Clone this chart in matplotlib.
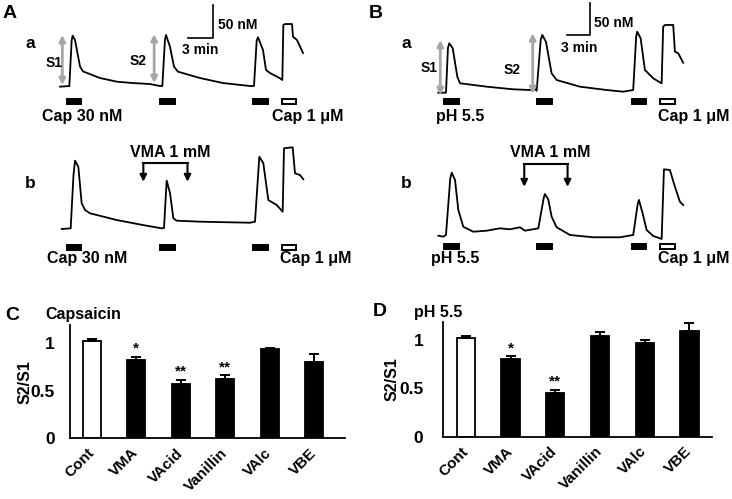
import matplotlib
matplotlib.use('Agg')
import matplotlib.pyplot as plt
from matplotlib.patches import Rectangle

plt.rcParams['font.family'] = ['Liberation Sans', 'DejaVu Sans']
plt.rcParams['font.weight'] = 'bold'

W, H = 732, 499

# --- calcium traces (time in min, [Ca2+]i in nM) ---
aa_t = [0, 1.12, 1.4, 1.52, 1.8, 2.4, 2.76, 4.8, 6.84, 8.76, 10.8, 12.0, 12.28, 12.6, 12.72,
        13.2, 13.68, 14.16, 16.8, 19.56, 22.8, 23.28, 23.6, 23.76, 24.36, 24.72, 25.2, 26.4,
        26.68, 26.8, 27.0, 27.84, 27.96, 28.44, 29.16]
aa_c = [100.5, 101.5, 171, 177.7, 171.2, 131.2, 123.6, 113.6, 108, 106, 104.5, 101.5, 101.5, 172,
        178.8, 161, 130.8, 123.2, 113.6, 106, 101.5, 101.5, 170, 175.3, 156, 125.8, 121.2, 113.2,
        110.6, 193.9, 195.4, 195.4, 176.2, 171.2, 151.5]

ab_t = [0.2, 1.28, 1.62, 1.8, 2.2, 2.6, 3.0, 3.6, 6.8, 9.96, 12.2, 12.48, 12.8, 13.2, 13.6, 14.0,
        16.8, 22.8, 23.4, 23.92, 24.4, 25.0, 26.0, 26.72, 26.88, 27.92, 28.2, 28.8, 29.2]
ab_c = [100, 101, 181.8, 203.5, 194.4, 138.9, 128.8, 123.8, 113.6, 106, 101, 101.5, 173.2, 154.5,
        116.2, 112.6, 111.1, 109.5, 111.1, 209.5, 199.5, 143.9, 136.4, 126.2, 222.3, 223.8, 184.4,
        181.8, 175.3]

ba_t = [0.04, 1.04, 1.3, 1.47, 1.92, 2.52, 2.87, 6.35, 9.82, 12.0, 12.45, 12.87, 13.4, 13.6, 14.08,
        14.82, 15.48, 18.51, 22.0, 24.16, 25.46, 25.85, 25.98, 26.43, 26.99, 28.07, 29.17, 29.37,
        29.6, 30.68, 30.9, 31.33, 31.98]
ba_c = [100, 100, 170, 177.2, 169.4, 125, 114.7, 109.4, 105.3, 104.2, 107.3, 103.1, 183, 190.2,
        179.7, 130.3, 119.8, 109.4, 104.2, 101.6, 104.2, 188, 195.3, 185, 135.5, 122.5, 114.7,
        203.1, 205.8, 205.8, 164.1, 161.6, 146.9]

bb_t = [0.04, 0.69, 1.04, 1.6, 1.79, 2.22, 2.65, 3.3, 4.6, 6.35, 8.08, 9.39, 10.69, 11.34, 13.08,
        13.8, 13.95, 14.38, 14.82, 15.48, 17.21, 20.25, 23.73, 25.46, 26.05, 26.21, 26.69, 27.21,
        28.07, 28.94, 29.17, 29.47, 30.25, 30.9, 31.55, 31.98]
bb_c = [100.5, 98.9, 101.6, 190, 198.9, 187.5, 140.6, 114.5, 106.7, 108.3, 112, 110.5, 113.6,
        108.3, 112, 160, 165.6, 157.3, 130.2, 113.6, 101.6, 98, 98, 101.6, 150, 156.3, 135.5,
        109.4, 100, 96.4, 95.3, 204.2, 203.1, 177, 153.6, 148.4]

# stimulus onsets (min); last one is Cap 1 uM (open bar)
stim_a = [0.8, 12.0, 23.2, 26.6]
stim_b = [0.78, 12.95, 25.25, 29.0]
stim_dur_a = 1.75
stim_dur_b = 1.9
vma_a = (10.0, 15.3)
vma_b = (11.25, 16.9)

# --- S2/S1 bar data ---
cats = ['Cont', 'VMA', 'VAcid', 'Vanillin', 'VAlc', 'VBE']
cap_mean = [1.02, 0.82, 0.57, 0.62, 0.94, 0.80]
cap_err = [0.025, 0.035, 0.045, 0.045, 0.01, 0.085]
cap_sig = ['', '*', '**', '**', '', '']
ph_mean = [1.02, 0.80, 0.45, 1.04, 0.97, 1.09]
ph_err = [0.027, 0.034, 0.034, 0.045, 0.034, 0.09]
ph_sig = ['', '*', '**', '', '', '']

fig = plt.figure(figsize=(W / 100, H / 100), dpi=100)


def ptext(x, y, s, size=11, **kw):
    kw.setdefault('va', 'center')
    fig.text(x / W, 1 - y / H, s, fontsize=size, fontweight='bold', **kw)


def trace_ax(x0, ybase, ppm, ppn, tlim=(-3, 34), clim=(40, 250)):
    left = x0 + tlim[0] * ppm
    right = x0 + tlim[1] * ppm
    top = ybase - (clim[1] - 100) * ppn
    bottom = ybase - (clim[0] - 100) * ppn
    ax = fig.add_axes([left / W, 1 - bottom / H, (right - left) / W, (bottom - top) / H])
    ax.set_xlim(tlim)
    ax.set_ylim(clim)
    ax.axis('off')
    return ax


def draw_trace(ax, t, c, stims, dur, bar_y):
    ax.plot(t, c, color='black', lw=1.3)
    for i, s in enumerate(stims):
        fc = 'white' if i == len(stims) - 1 else 'black'
        ax.add_patch(Rectangle((s, bar_y), dur, 8, facecolor=fc, edgecolor='black', lw=1.4))


def gray_arrow(ax, t, c0, c1):
    ax.annotate('', xy=(t, c1), xytext=(t, c0),
                arrowprops=dict(arrowstyle='<|-|>', color='#a6a6a6', lw=2, mutation_scale=9,
                                shrinkA=0, shrinkB=0))


def bracket(ax, on, off, top, tip):
    ax.plot([on, off], [top, top], color='black', lw=1.5, solid_capstyle='projecting')
    for x in (on, off):
        ax.annotate('', xy=(x, tip), xytext=(x, top),
                    arrowprops=dict(arrowstyle='-|>', color='black', lw=1.5, mutation_scale=10,
                                    shrinkA=0, shrinkB=0))


def scale_bar(ax, t, c):
    ax.plot([t - 3, t, t], [c, c, c + 50], color='black', lw=1.2)


# Panel A
ax_aa = trace_ax(60, 87, 25 / 3, 0.66)
draw_trace(ax_aa, aa_t, aa_c, stim_a, stim_dur_a, 74)
gray_arrow(ax_aa, 0.28, 103, 178.8)
gray_arrow(ax_aa, 11.3, 106, 180.3)
scale_bar(ax_aa, 18.4, 174.2)

ax_ab = trace_ax(60, 229, 25 / 3, 0.66)
draw_trace(ax_ab, ab_t, ab_c, stim_a, stim_dur_a, 68.5)
bracket(ax_ab, vma_a[0], vma_a[1], 199.5, 171.7)

# Panel B
ax_ba = trace_ax(438, 92.7, 23 / 3, 0.64)
draw_trace(ax_ba, ba_t, ba_c, stim_b, stim_dur_b, 82)
gray_arrow(ax_ba, 0.3, 96.4, 182.3)
gray_arrow(ax_ba, 12.35, 98, 192.8)
scale_bar(ax_ba, 19.82, 190.2)

ax_bb = trace_ax(438, 236, 23 / 3, 0.64)
draw_trace(ax_bb, bb_t, bb_c, stim_b, stim_dur_b, 80)
bracket(ax_bb, vma_b[0], vma_b[1], 212.5, 177)

# trace labels
ptext(3, 14, 'A', size=14)
ptext(369, 14, 'B', size=14)
ptext(25, 43, 'a', size=12.5)
ptext(25, 183, 'b', size=12.5)
ptext(401, 43, 'a', size=12.5)
ptext(401, 183, 'b', size=12.5)
ptext(46, 63, 'S1', size=10)
ptext(130, 61, 'S2', size=10)
ptext(421, 68, 'S1', size=10)
ptext(504, 70, 'S2', size=10)
ptext(218, 25, '50 nM', size=10)
ptext(182, 50, '3 min', size=10)
ptext(594, 23, '50 nM', size=10)
ptext(561, 48, '3 min', size=10)
ptext(42, 117, 'Cap 30 nM', size=11.5)
ptext(272, 117, 'Cap 1 μM', size=11.5)
ptext(47, 258, 'Cap 30 nM', size=11.5)
ptext(280, 258, 'Cap 1 μM', size=11.5)
ptext(436, 117, 'pH 5.5', size=11.5)
ptext(658, 117, 'Cap 1 μM', size=11.5)
ptext(431, 258, 'pH 5.5', size=11.5)
ptext(658, 258, 'Cap 1 μM', size=11.5)
ptext(170, 152, 'VMA 1 mM', size=11.5, ha='center')
ptext(550, 152, 'VMA 1 mM', size=11.5, ha='center')


# bar charts
def bar_panel(rect, xlim, means, errs, sigs, pad, ylab_x):
    l, r, b, t = rect
    ax = fig.add_axes([l / W, 1 - b / H, (r - l) / W, (b - t) / H])
    x = list(range(len(cats)))
    colors = ['white'] + ['black'] * (len(cats) - 1)
    ax.bar(x, means, width=0.41, color=colors, edgecolor='black', linewidth=1.3)
    ax.errorbar(x, means, yerr=[[0] * len(errs), errs], fmt='none', ecolor='black',
                elinewidth=1.4, capsize=3.5, capthick=1.4)
    for xi, m, e, s in zip(x, means, errs, sigs):
        if s:
            ax.text(xi, m + e + 0.01, s, ha='center', va='bottom', fontsize=11, fontweight='bold')
    ax.set_xlim(xlim)
    ax.set_ylim(0, 1.19)
    ax.set_yticks([0, 0.5, 1])
    ax.set_yticklabels(['0', '0.5', '1'], fontsize=12.5, fontweight='bold')
    ax.set_xticks(x)
    ax.set_xticklabels(cats, rotation=45, ha='right', va='center', rotation_mode='anchor',
                       fontsize=11, fontweight='bold')
    ax.tick_params(axis='y', length=0, pad=pad)
    ax.tick_params(axis='x', length=0, pad=9)
    for sp in ('top', 'right'):
        ax.spines[sp].set_visible(False)
    for sp in ('left', 'bottom'):
        ax.spines[sp].set_linewidth(1.3)
    ax.set_ylabel('S2/S1', fontsize=11.5, fontweight='bold')
    ax.yaxis.set_label_coords(ylab_x, 0.5)
    return ax


bar_panel((70, 345, 438.3, 325), (-0.49, 5.69), cap_mean, cap_err, cap_sig, 11, -0.135)
bar_panel((442.7, 711.7, 436.7, 321.7), (-0.52, 5.5), ph_mean, ph_err, ph_sig, 14, -0.162)

ptext(5, 315, 'C', size=14)
ptext(45, 315, 'Capsaicin', size=11.5)
ptext(373, 312, 'D', size=14)
ptext(414, 312, 'pH 5.5', size=11.5)

fig.savefig('out.png', dpi=100)
